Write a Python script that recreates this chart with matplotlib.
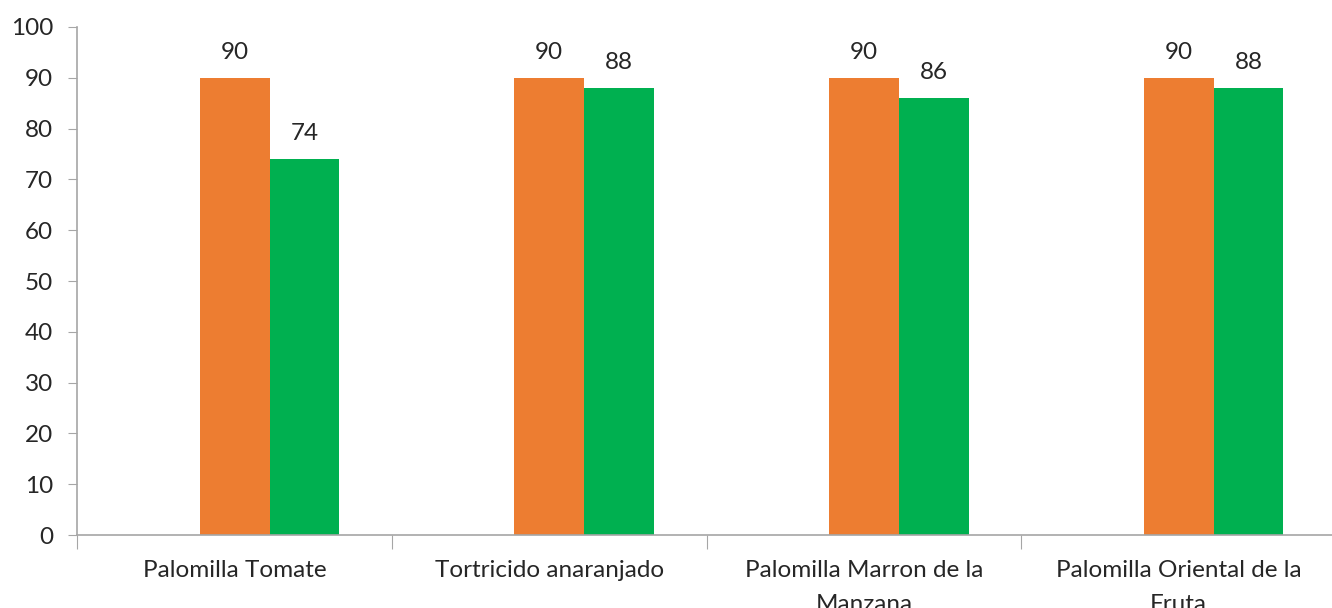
import matplotlib
matplotlib.use("Agg")
import matplotlib.pyplot as plt
import numpy as np

# Datos
categorias = ["Palomilla Tomate", "Tortricido anaranjado",
              "Palomilla Marron de la\nManzana", "Palomilla Oriental de la\nFruta"]
serie_naranja = [90, 90, 90, 90]
serie_verde = [74, 88, 86, 88]

plt.rcParams['font.family'] = ['Lato', 'DejaVu Sans']

fig = plt.figure(figsize=(13.32, 6.08), dpi=100)
ax = fig.add_axes([0.058, 0.12, 0.945, 0.8356])

x = np.arange(len(categorias))
ancho = 0.222

b1 = ax.bar(x, serie_naranja, ancho, color='#ED7D31')
b2 = ax.bar(x + ancho, serie_verde, ancho, color='#00B050')

for barras in (b1, b2):
    for b in barras:
        ax.annotate(f"{b.get_height():.0f}", (b.get_x() + b.get_width() / 2, b.get_height()),
                    xytext=(0, 11), textcoords='offset points', ha='center', va='bottom',
                    fontsize=17.5, color='#262626')

ax.set_xlim(-0.5, len(categorias) - 0.5)
ax.set_ylim(0, 100)
ax.set_yticks(range(0, 101, 10))
ax.tick_params(axis='y', labelsize=17.5, length=6.5, color='#A6A6A6', labelcolor='#262626', pad=11)

# marcas entre categorias
ax.set_xticks(np.arange(-0.5, len(categorias), 1.0))
ax.set_xticklabels([])
ax.tick_params(axis='x', length=10, color='#A6A6A6')
for i, c in enumerate(categorias):
    ax.text(i, -4.9, c, ha='center', va='top', fontsize=17.5, color='#262626',
            linespacing=1.75, transform=ax.transData)

for s in ['top', 'right']:
    ax.spines[s].set_visible(False)
for s in ['left', 'bottom']:
    ax.spines[s].set_color('#A6A6A6')
    ax.spines[s].set_linewidth(1.2)

fig.savefig("out.png", dpi=100)
